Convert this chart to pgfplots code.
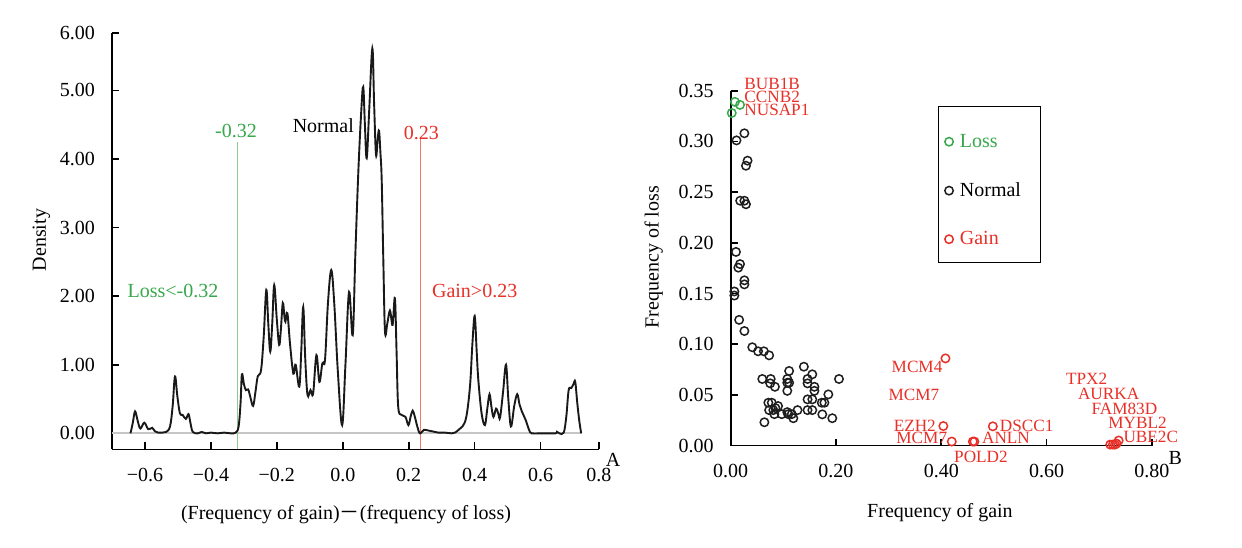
\documentclass[border=0pt]{standalone}
\usepackage{fontspec}
\setmainfont{Liberation Serif}
\newfontfamily\cjk{Noto Sans CJK SC}
\usepackage{pgfplots}
\pgfplotsset{compat=1.18}
\pgfplotsset{
  dotlegend/.style={legend image code/.code={\draw[##1] plot coordinates {(0.08cm,0cm)}; \path[draw=none] (0pt,0pt) -- (5.7pt,0pt);}},
  dotlegendtall/.style={legend image code/.code={\draw[##1,overlay] plot coordinates {(0.08cm,-3pt)}; \path[draw=none] (0pt,-2.1pt) -- (5.7pt,2.1pt);}}
}
\definecolor{lgreen}{RGB}{55,168,75}
\definecolor{lgreenline}{RGB}{140,205,140}
\definecolor{lred}{RGB}{232,48,40}
\definecolor{lredline}{RGB}{240,120,100}
\definecolor{ptblack}{RGB}{30,30,30}
\pgfplotstableread{
x y
-0.644 0
-0.637 0.15
-0.630 0.32
-0.622 0.18
-0.614 0.07
-0.602 0.155
-0.590 0.06
-0.578 0.08
-0.570 0.03
-0.560 0.01
-0.548 0.01
-0.536 0.02
-0.524 0.10
-0.516 0.40
-0.509 0.83
-0.502 0.55
-0.494 0.29
-0.486 0.27
-0.476 0.21
-0.468 0.28
-0.462 0.15
-0.455 0.02
-0.440 0.0
-0.428 0.02
-0.415 0.0
-0.400 0.01
-0.380 0.0
-0.360 0.01
-0.340 0.0
-0.325 0.01
-0.316 0.10
-0.310 0.45
-0.306 0.86
-0.300 0.72
-0.294 0.63
-0.287 0.64
-0.280 0.52
-0.272 0.40
-0.265 0.60
-0.258 0.83
-0.248 0.92
-0.240 1.40
-0.232 2.09
-0.226 1.60
-0.220 1.19
-0.214 1.60
-0.208 2.16
-0.200 1.65
-0.193 1.29
-0.188 1.50
-0.182 1.90
-0.177 1.70
-0.174 1.63
-0.168 1.75
-0.160 1.30
-0.150 0.87
-0.143 1.00
-0.132 0.68
-0.126 1.20
-0.120 1.84
-0.114 1.10
-0.107 0.56
-0.098 0.63
-0.090 0.58
-0.080 1.14
-0.071 0.75
-0.062 1.02
-0.054 1.07
-0.045 1.90
-0.035 2.38
-0.026 1.90
-0.015 0.90
-0.002 0.12
0.008 1.00
0.019 2.06
0.030 1.43
0.038 2.60
0.047 3.80
0.056 4.70
0.062 5.05
0.067 4.50
0.0725 4.01
0.080 4.70
0.0896 5.61
0.095 4.80
0.1007 4.06
0.106 4.30
0.110 4.41
0.114 4.10
0.118 3.69
0.123 2.50
0.128 1.48
0.135 1.60
0.143 1.79
0.151 1.58
0.158 1.97
0.163 1.20
0.168 0.39
0.178 0.27
0.190 0.24
0.199 0.12
0.206 0.25
0.212 0.33
0.218 0.25
0.226 0.10
0.234 0.0
0.246 0.05
0.260 0.04
0.270 0.03
0.280 0.02
0.290 0.01
0.310 0.01
0.330 0.0
0.340 0.01
0.351 0.05
0.363 0.10
0.375 0.25
0.386 0.70
0.393 1.30
0.400 1.71
0.406 1.20
0.411 0.78
0.421 0.29
0.431 0.12
0.438 0.35
0.445 0.57
0.451 0.38
0.457 0.24
0.465 0.36
0.472 0.28
0.477 0.23
0.486 0.60
0.495 1.00
0.502 0.50
0.510 0.10
0.520 0.40
0.529 0.57
0.536 0.42
0.543 0.32
0.555 0.19
0.565 0.05
0.573 0.0
0.600 0.0
0.645 0.0
0.650 0.02
0.657 0.0
0.670 0.01
0.678 0.25
0.685 0.63
0.693 0.66
0.700 0.72
0.705 0.75
0.711 0.45
0.717 0.19
0.723 0.0
}\densitytable
\pgfplotstableread{
x y
0.026 0.308
0.011 0.301
0.032 0.281
0.029 0.276
0.018 0.2415
0.026 0.2415
0.029 0.238
0.010 0.191
0.0145 0.1755
0.0177 0.179
0.026 0.163
0.026 0.159
0.007 0.152
0.007 0.148
0.016 0.124
0.026 0.113
0.041 0.097
0.052 0.093
0.063 0.093
0.073 0.089
0.060 0.0657
0.076 0.0657
0.075 0.0614
0.084 0.058
0.1075 0.0657
0.111 0.0736
0.1075 0.062
0.111 0.062
0.1075 0.054
0.139 0.0778
0.146 0.0657
0.146 0.0614
0.155 0.0703
0.159 0.058
0.159 0.054
0.2057 0.0657
0.1855 0.0505
0.146 0.0456
0.155 0.0456
0.173 0.0423
0.178 0.0423
0.146 0.035
0.155 0.035
0.174 0.0308
0.193 0.027
0.0715 0.0423
0.078 0.0423
0.073 0.035
0.081 0.035
0.090 0.039
0.083 0.031
0.097 0.031
0.1095 0.031
0.116 0.031
0.119 0.027
0.127 0.035
0.064 0.023
0.1075 0.033
0.085 0.037
}\normaltable
\pgfplotstableread{
x y
0.008 0.339
0.0177 0.336
0.002 0.328
}\losstable
\pgfplotstableread{
x y
0.408 0.086
0.404 0.0193
0.420 0.004
0.460 0.004
0.463 0.004
0.498 0.019
0.721 0.001
0.726 0.001
0.730 0.001
0.733 0.002
0.737 0.005
}\gaintable
\begin{document}
\begin{tikzpicture}[x=1pt,y=1pt]
\useasboundingbox (0,0) rectangle (621,273.5);
\fill[white] (0,0) rectangle (621,273.5);
\begin{axis}[
  at={(56pt,48.85pt)}, anchor=south west,
  scale only axis, width=243.5pt, height=208.3pt,
  xmin=-0.70, xmax=0.777, ymin=-0.233, ymax=5.84,
  axis lines=left,
  axis line style={-, line width=0.8pt},
  tick align=inside, major tick length=3.5pt,
  tick style={line width=0.8pt, black},
  xtick={-0.6,-0.4,-0.2,0,0.2,0.4,0.6,0.777},
  xticklabels={−0.6,−0.4,−0.2,0.0,0.2,0.4,0.6,0.8},
  ytick={0,1,2,3,4,5,5.84},
  yticklabels={0.00,1.00,2.00,3.00,4.00,5.00,6.00},
  yticklabel style={xshift=-5pt},
  xticklabel style={yshift=-6pt},
  font=\fontsize{10}{12}\selectfont,
  ticklabel style={font=\fontsize{10}{12}\selectfont},
  xlabel={(Frequency of gain){\cjk －}(frequency of loss)},
  xlabel style={at={(axis description cs:0.4805,-0.1577)}, anchor=center},
  ylabel={Density},
  ylabel style={at={(axis description cs:-0.1448,0.5024)}, anchor=center},
  clip=false,
]
\addplot[gray!45, line width=1pt] coordinates {(-0.70,0) (0.724,0)};
\addplot[lgreenline, line width=0.7pt] coordinates {(-0.32,-0.233) (-0.32,4.25)};
\addplot[lredline, line width=0.7pt] coordinates {(0.235,-0.233) (0.235,4.30)};
\addplot[black!90, line width=0.95pt, smooth, tension=0.6] table[x=x,y=y] {\densitytable};
\node[text=lgreen] at (axis cs:-0.324,4.41) {-0.32};
\node[text=lred] at (axis cs:0.238,4.38) {0.23};
\node[text=black] at (axis cs:-0.059,4.48) {Normal};
\node[text=lgreen] at (axis cs:-0.515,2.08) {Loss<-0.32};
\node[text=lred] at (axis cs:0.40,2.08) {Gain>0.23};
\node at (axis description cs:1.029,-0.0257) {A};
\end{axis}
\begin{axis}[
  at={(365.35pt,50.7pt)}, anchor=south west,
  scale only axis, width=210.55pt, height=177.45pt,
  xmin=0, xmax=0.8, ymin=0, ymax=0.35,
  axis lines=left,
  axis line style={-, line width=0.8pt},
  tick align=inside, major tick length=3.5pt,
  tick style={line width=0.8pt, black},
  xtick={0,0.2,0.4,0.6,0.8},
  xticklabels={0.00,0.20,0.40,0.60,0.80},
  ytick={0,0.05,0.1,0.15,0.2,0.25,0.3,0.35},
  yticklabels={0.00,0.05,0.10,0.15,0.20,0.25,0.30,0.35},
  yticklabel style={xshift=-5pt},
  xticklabel style={yshift=-6pt},
  font=\fontsize{10}{12}\selectfont,
  ticklabel style={font=\fontsize{10}{12}\selectfont},
  xlabel={Frequency of gain},
  xlabel style={at={(axis description cs:0.497,-0.189)}, anchor=center},
  ylabel={Frequency of loss},
  ylabel style={at={(axis description cs:-0.183,0.531)}, anchor=center},
  clip=false,
  legend style={at={(axis description cs:0.4923,0.9577)}, anchor=north west,
    draw=black, line width=0.5pt, row sep=12.0pt, inner xsep=3pt, inner ysep=5.5pt,
    font=\fontsize{10}{12}\selectfont, legend cell align=left},
]
\addplot[only marks, mark=o, mark size=2.1pt, lgreen, mark options={line width=0.75pt}, dotlegendtall] table[x=x,y=y] {\losstable};
\addlegendentry{\textcolor{lgreen}{Loss}\rule{0pt}{13pt}}
\addplot[only marks, mark=o, mark size=2.1pt, ptblack, mark options={line width=0.75pt}, dotlegend] table[x=x,y=y] {\normaltable};
\addlegendentry{\textcolor{black}{Normal}\hspace*{4.8pt}}
\addplot[only marks, mark=o, mark size=2.1pt, lred, mark options={line width=0.75pt}, dotlegend] table[x=x,y=y] {\gaintable};
\addlegendentry{\textcolor{lred}{Gain}}
\begin{scope}[every node/.style={text=lred, font=\fontsize{8.6}{10}\selectfont, inner sep=0pt}]
\node[anchor=west] at (axis cs:0.0253,0.3566) {BUB1B};
\node[anchor=west] at (axis cs:0.0253,0.3438) {CCNB2};
\node[anchor=west] at (axis cs:0.0253,0.3312) {NUSAP1};
\node at (axis cs:0.354,0.0778) {MCM4};
\node at (axis cs:0.348,0.0499) {MCM7};
\node at (axis cs:0.3497,0.0193) {EZH2};
\node at (axis cs:0.363,0.0075) {MCM7};
\node at (axis cs:0.4754,-0.011) {POLD2};
\node at (axis cs:0.5624,0.0193) {DSCC1};
\node at (axis cs:0.523,0.0075) {ANLN};
\node at (axis cs:0.6763,0.0657) {TPX2};
\node at (axis cs:0.718,0.0509) {AURKA};
\node at (axis cs:0.748,0.0361) {FAM83D};
\node at (axis cs:0.773,0.0223) {MYBL2};
\node at (axis cs:0.798,0.0085) {UBE2C};
\end{scope}
\node at (axis description cs:1.056,-0.035) {B};
\end{axis}
\end{tikzpicture}
\end{document}
